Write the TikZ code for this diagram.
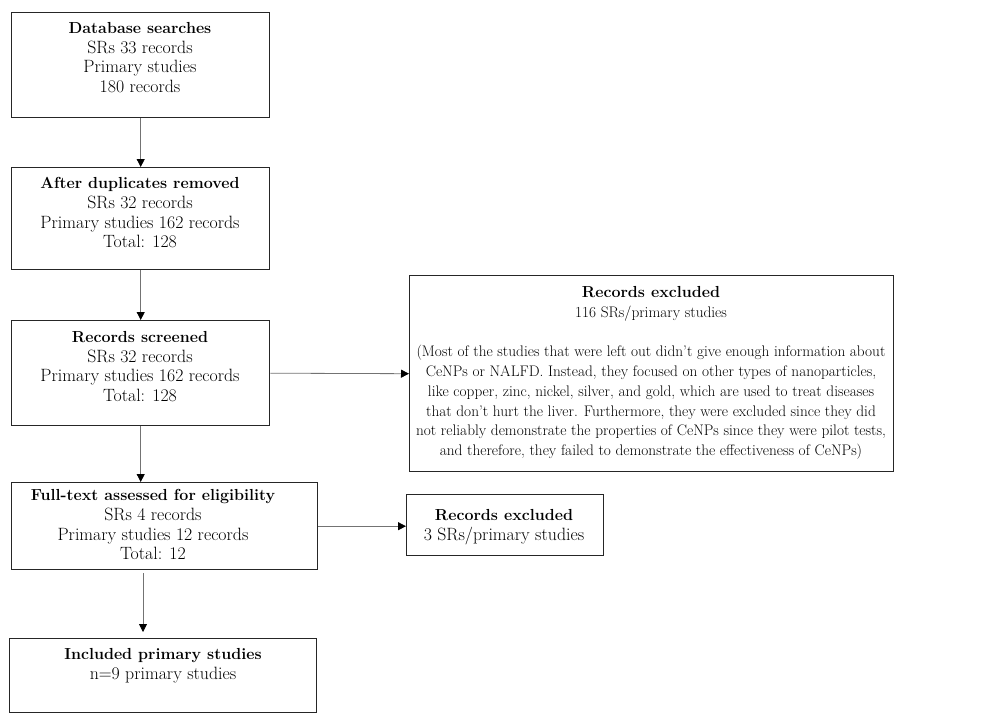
\documentclass[tikz,border=0pt]{standalone}
\usetikzlibrary{arrows.meta,calc}
\newcommand{\ttl}[1]{{\fontsize{16}{19.8}\selectfont\bfseries #1}}
\begin{document}
\begin{tikzpicture}[x=1pt,y=-1pt,
  font=\fontsize{17.8}{19.8}\selectfont,
  box/.style={draw=black!85, line width=1.4pt, inner sep=0pt, anchor=north west},
  txt/.style={align=center, inner sep=0pt, anchor=north},
  arr/.style={draw=black!55, line width=0.8pt, -{Triangle[length=8pt,width=8pt,black]}}]
\useasboundingbox (0,0) rectangle (998,725);
% boxes
\node[box, minimum width=258pt, minimum height=105pt] (b1) at (11,12) {};
\node[box, minimum width=258pt, minimum height=102pt] (b2) at (11,167) {};
\node[box, minimum width=258pt, minimum height=105pt] (b3) at (11,320) {};
\node[box, minimum width=306pt, minimum height=87pt] (b4) at (11,482) {};
\node[box, minimum width=307pt, minimum height=74pt] (b5) at (9,638) {};
\node[box, minimum width=484pt, minimum height=196pt] (b6) at (409,275) {};
\node[box, minimum width=197pt, minimum height=61pt] (b7) at (406,494) {};
% texts
\node[txt] (t1) at (140,22) {\ttl{Database searches}\\SRs 33 records\\Primary studies\\180 records};
\node[txt] (t2) at (140,177) {\ttl{After duplicates removed}\\SRs 32 records\\Primary studies 162 records\\Total: 128};
\node[txt] (t3) at (140,331) {\ttl{Records screened}\\SRs 32 records\\Primary studies 162 records\\Total: 128};
\node[txt] (t4) at (153,489) {\ttl{Full-text assessed for eligibility}\\SRs 4 records\\Primary studies 12 records\\Total: 12};
\node[txt] (t5) at (163,648) {\ttl{Included primary studies}\\n=9 primary studies};
\node[txt, font=\fontsize{15.3}{19.8}\selectfont] (t6) at (651,286) {\ttl{Records excluded}\\116 SRs/primary studies\\[19.8pt]
(Most of the studies that were left out didn't give enough information about\\
CeNPs or NALFD. Instead, they focused on other types of nanoparticles,\\
like copper, zinc, nickel, silver, and gold, which are used to treat diseases\\
that don't hurt the liver. Furthermore, they were excluded since they did\\
not reliably demonstrate the properties of CeNPs since they were pilot tests,\\
and therefore, they failed to demonstrate the effectiveness of CeNPs)};
\node[txt] (t7) at (504,509) {\ttl{Records excluded}\\3 SRs/primary studies};
% arrows
\draw[arr] (b1.south) -- (b2.north);
\draw[arr] (b2.south) -- (b3.north);
\draw[arr] (b3.south) -- (b3.south |- b4.north);
\draw[arr] ($(b4.south west)+(132,3)$) -- ($(b5.north west)+(134,-6)$);
\draw[arr] (b3.east) -- (b6.west);
\draw[arr] (b4.east) -- (b4.east -| b7.west);
\end{tikzpicture}
\end{document}
